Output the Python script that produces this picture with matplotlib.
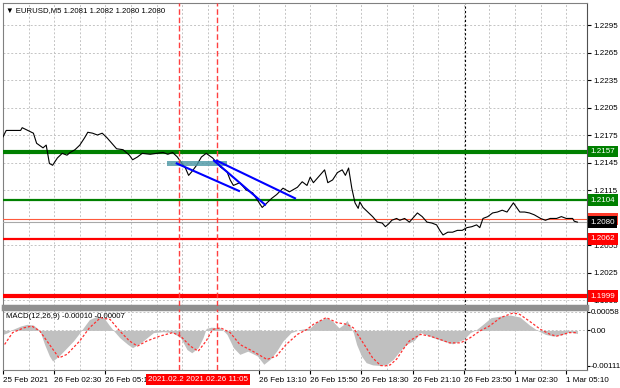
import matplotlib
matplotlib.use("Agg")
import matplotlib.pyplot as plt
import matplotlib.transforms as mtrans

plt.rcParams["font.family"] = ["Liberation Sans", "DejaVu Sans"]

# price (close), x in M5 bars from the left edge
price_bar = [0, 2, 11, 12, 19, 21, 25, 27, 29, 31, 34, 37, 40, 42, 45, 48, 51, 53, 56, 59,
             62, 65, 68, 71, 75, 79, 81, 84, 87, 92, 96, 100, 103, 106, 109, 111, 114, 116, 118, 121,
             124, 127, 131, 132, 136, 140, 142, 144, 148, 152, 156, 159, 162, 165, 168, 171, 175, 179, 184, 187,
             190, 192, 194, 198, 201, 203, 206, 209, 212, 214, 216, 218, 220, 222, 223, 225, 228, 231, 234, 237,
             239, 241, 243, 246, 248, 251, 254, 257, 259, 262, 265, 268, 271, 273, 275, 278, 281, 284, 287, 290,
             293, 296, 298, 300, 303, 306, 309, 312, 315, 317, 319, 321, 323, 326, 329, 332, 336, 339, 342, 346,
             349, 352, 356, 357, 359]
price = [1.2173, 1.2180, 1.2180, 1.2183, 1.2177, 1.2166, 1.2161, 1.2164, 1.2144, 1.2142,
         1.2150, 1.2155, 1.2153, 1.2156, 1.2159, 1.2164, 1.2172, 1.2178, 1.2177, 1.2175,
         1.2177, 1.2172, 1.2166, 1.2160, 1.2159, 1.2153, 1.2148, 1.2151, 1.2155, 1.2154,
         1.2155, 1.2156, 1.2154, 1.2156, 1.2151, 1.2146, 1.2139, 1.2131, 1.2135, 1.2142,
         1.2151, 1.2155, 1.2150, 1.2148, 1.2140, 1.2135, 1.2126, 1.2120, 1.2123, 1.2115,
         1.2112, 1.2104, 1.2096, 1.2101, 1.2106, 1.2110, 1.2117, 1.2113, 1.2118, 1.2124,
         1.2120, 1.2129, 1.2123, 1.2131, 1.2137, 1.2123, 1.2126, 1.2134, 1.2137, 1.2131,
         1.2139, 1.2117, 1.2101, 1.2095, 1.2102, 1.2096, 1.2091, 1.2086, 1.2080, 1.2079,
         1.2075, 1.2078, 1.2082, 1.2084, 1.2082, 1.2084, 1.2080, 1.2086, 1.2090, 1.2086,
         1.2080, 1.2079, 1.2077, 1.2071, 1.2066, 1.2069, 1.2069, 1.2071, 1.2071, 1.2074,
         1.2075, 1.2077, 1.2074, 1.2084, 1.2086, 1.2090, 1.2091, 1.2093, 1.2091, 1.2096,
         1.2101, 1.2096, 1.2091, 1.2091, 1.2090, 1.2088, 1.2084, 1.2082, 1.2084, 1.2084,
         1.2086, 1.2084, 1.2084, 1.2081, 1.2080]

# MACD main (grey histogram) and signal (red dotted)
macd_bar = [0, 3, 6, 11, 15, 19, 23, 26, 29, 31, 35, 40, 44, 48, 51, 54, 59, 63, 66, 69,
            73, 78, 81, 86, 90, 94, 100, 106, 111, 115, 118, 122, 125, 127, 130, 136, 140, 144, 148, 153,
            159, 163, 167, 171, 175, 180, 186, 192, 196, 202, 206, 210, 213, 215, 217, 219, 221, 224, 227, 231,
            236, 240, 244, 248, 252, 257, 261, 264, 269, 275, 281, 288, 292, 296, 300, 305, 311, 317, 323, 329,
            334, 339, 344, 350, 354, 359]
macd = [-0.000125, -0.00007, 0.00003, 0.000136, 0.00019, 0.000167, 0.0, -0.00044, -0.0008, -0.00096,
        -0.0008, -0.00054, -0.00033, -0.00007, 0.000136, 0.00034, 0.00045, 0.0004, 0.00019, 0.0,
        -0.00023, -0.00044, -0.00054, -0.00039, -0.00023, -0.00007, -0.00004, -0.00007, -0.00023, -0.0006,
        -0.0007, -0.00054, -0.00023, 0.00006, 0.0001, 0.00008, -0.000125, -0.00054, -0.00075, -0.00065,
        -0.0008, -0.00106, -0.0009, -0.00065, -0.00033, -0.00007, 0.00003, 0.00008, 0.00027, 0.0004,
        0.00029, 0.00008, 0.00019, 0.00031, 0.000136, -0.00007, -0.00044, -0.0008, -0.00101, -0.00108,
        -0.0011, -0.00106, -0.0009, -0.00065, -0.00044, -0.00031, -0.00007, -0.000125, -0.00023, -0.00033,
        -0.00042, -0.00028, -0.00007, 0.00003, 0.00019, 0.0004, 0.00045, 0.00048, 0.00042, 0.00017,
        0.0, -0.000125, -0.00018, -0.000125, -0.00004, -0.0001]
signal_bar = [1, 6, 13, 18, 23, 29, 35, 40, 48, 54, 61, 67, 73, 79, 84, 90, 98, 106, 111, 117,
              122, 127, 131, 136, 142, 148, 156, 165, 171, 177, 184, 190, 194, 202, 209, 215, 219, 223, 227, 231,
              236, 239, 242, 246, 250, 254, 261, 267, 273, 279, 286, 292, 298, 304, 311, 319, 323, 329, 336, 342,
              346, 350, 354, 359]
signal = [-0.00044, -0.00007, 0.00008, 0.000136, -0.00002, -0.00044, -0.00086, -0.00075, -0.00033, 0.00008,
          0.0004, 0.00034, -0.00002, -0.00033, -0.00049, -0.00033, -0.00018, -0.00007, -0.00018, -0.00049,
          -0.00065, -0.00033, 0.00003, 0.00008, -0.00007, -0.00044, -0.00065, -0.00091, -0.0008, -0.00044,
          -0.000125, 0.00003, 0.00019, 0.0004, 0.00024, 0.00019, 0.00008, -0.00023, -0.00054, -0.00086,
          -0.0011, -0.00111, -0.00108, -0.0009, -0.0006, -0.00033, -0.000125, -0.00018, -0.00028, -0.00039,
          -0.00039, -0.00023, -0.00002, 0.000136, 0.0004, 0.00055, 0.0005, 0.00029, 0.00003, -0.000125,
          -0.00018, -0.000125, -0.00007, -0.00007]

# levels drawn on the chart
level_green = [1.2157, 1.2104]
level_red = [1.2062, 1.1999]
bid = 1.2080
ask = 1.2083
price_ticks = [1.2295, 1.2265, 1.2235, 1.2205, 1.2175, 1.2145, 1.2115, 1.2055, 1.2025, 1.1995]
macd_ticks = [0.00058, 0.0, -0.00111]
macd_tick_labels = ["0.00058", "0.00", "-0.00111"]

# blue trend lines (bar, price) and the teal box
trend_lines = [((108.6, 1.2144), (147.5, 1.2114)),
               ((131.9, 1.2147), (163.8, 1.2099)),
               ((133.6, 1.2147), (182.5, 1.2106))]
box_bars = (102.5, 140.0)
box_prices = (1.2141, 1.2147)

time_ticks = [0, 32, 64, 160, 192, 224, 256, 288, 320, 352]
time_labels = ["25 Feb 2021", "26 Feb 02:30", "26 Feb 05:10", "26 Feb 13:10", "26 Feb 15:50",
               "26 Feb 18:30", "26 Feb 21:10", "26 Feb 23:50", "1 Mar 02:30", "1 Mar 05:10"]
red_vlines = [110, 134]
red_vlabels = ["2021.02.26 09:05", "2021.02.26 11:05"]
day_sep = 289

W, H = 620, 388
fig = plt.figure(figsize=(W / 100, H / 100), dpi=100)
ax = fig.add_axes([3 / W, 1 - 306 / H, 584 / W, 303 / H])
axm = fig.add_axes([3 / W, 1 - 370 / H, 584 / W, 61 / H])

FS = 5.8    # time axis
FST = 5.6   # chart titles
FSR = 5.8   # price scale
grid_kw = dict(color="#c4c4c4", lw=0.7, ls=(0, (2, 2)), zorder=0)

for a in (ax, axm):
    a.set_xlim(0, 365)
    for x in range(0, 366, 16):
        a.axvline(x, **grid_kw)
    a.axvline(day_sep, color="black", lw=0.8, ls=(0, (2, 2)), zorder=1)
    for x in red_vlines:
        a.axvline(x, color="#ff4040", lw=1.0, ls=(0, (4, 2)), zorder=5)
    for s in a.spines.values():
        s.set_color("#808080")
    a.spines["right"].set_color("#505050")

# main panel
ax.set_ylim(1.19885, 1.2319)
for p in price_ticks:
    ax.axhline(p, **grid_kw)
ax.plot(price_bar, price, color="black", lw=0.8, zorder=4)
ax.axhline(level_green[0], color="#008000", lw=3.0, zorder=3)
ax.axhline(level_green[1], color="#008000", lw=1.6, zorder=3)
ax.axhline(level_red[0], color="#ff0000", lw=1.6, zorder=3)
ax.axhline(level_red[1], color="#ff0000", lw=3.0, zorder=3)
ax.axhline(ask, color="#ff5a3c", lw=0.8, zorder=3)
ax.axhline(bid, color="#a8a8a8", lw=0.8, zorder=3)
ax.fill_between(box_bars, box_prices[0], box_prices[1], color="#4a96a4", alpha=0.8, lw=0, zorder=4)
for (x0, y0), (x1, y1) in trend_lines:
    ax.plot([x0, x1], [y0, y1], color="#0000ff", lw=1.5, zorder=6)

ax.yaxis.tick_right()
ax.set_yticks(price_ticks)
ax.set_yticklabels([f"{p:.4f}" for p in price_ticks])
ax.tick_params(axis="y", labelsize=FSR, length=3, pad=1.5, colors="black")
ax.set_xticks([])
ax.spines["bottom"].set_linewidth(2.5)
ax.spines["bottom"].set_color("#909090")

ytr = mtrans.blended_transform_factory(ax.transAxes, ax.transData)
tags = [(level_green[0], "#008000", "white"), (level_green[1], "#008000", "white"),
        (ask, "#ff3a2a", "white"), (bid, "black", "white"),
        (level_red[0], "#ff0000", "white"), (level_red[1], "#ff0000", "white")]
for p, bg, fg in tags:
    ax.text(1.006, p, f"{p:.4f}", transform=ytr, fontsize=FSR, color=fg, va="center", ha="left",
            clip_on=False, zorder=10,
            bbox=dict(boxstyle="square,pad=0.3", fc=bg, ec="none"))

ax.text(0.005, 0.985, "\u25bc EURUSD,M5 1.2081 1.2082 1.2080 1.2080", transform=ax.transAxes,
        fontsize=FST, va="top", ha="left", color="black")

# MACD panel
axm.set_ylim(-0.00124, 0.00067)
axm.axhline(0, **grid_kw)
axm.axhline(0.00058, **grid_kw)
axm.fill_between(macd_bar, 0, macd, color="#c0c0c0", lw=0, zorder=2)
axm.plot(signal_bar, signal, color="#ff3030", lw=0.9, ls=(0, (2, 1.5)), zorder=3)
axm.yaxis.tick_right()
axm.set_yticks(macd_ticks)
axm.set_yticklabels(macd_tick_labels)
axm.tick_params(axis="y", labelsize=FSR, length=2, pad=0.5)
axm.spines["top"].set_linewidth(2.5)
axm.spines["top"].set_color("#909090")
axm.set_xticks(time_ticks)
axm.set_xticklabels(time_labels, ha="left")
axm.tick_params(axis="x", labelsize=FS, length=3, pad=2)
axm.text(0.005, 0.93, "MACD(12,26,9) -0.00010 -0.00007", transform=axm.transAxes,
         fontsize=FST, va="top", ha="left", color="black")

xtr = mtrans.blended_transform_factory(axm.transData, axm.transAxes)
for x, lab in zip(red_vlines, red_vlabels):
    axm.text(x, -0.15, lab, transform=xtr, fontsize=FS, color="white", ha="center", va="center",
             clip_on=False, zorder=10,
             bbox=dict(boxstyle="square,pad=0.25", fc="#ff0000", ec="none"))

fig.savefig("out.png", dpi=100, facecolor="white")
